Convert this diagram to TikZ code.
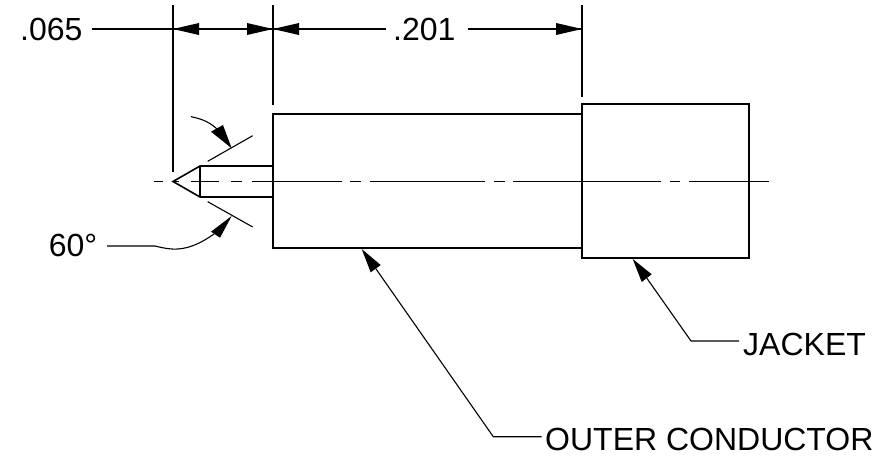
\documentclass[tikz,border=0pt]{standalone}
\usepackage{fontspec}
\setmainfont{Liberation Sans}
\tikzset{
 x=1pt,y=-1pt,
 thin line/.style={line width=1.1pt,black},
 part/.style={line width=1.6pt,black},
 center line/.style={line width=1pt,black},
 label/.style={font=\fontsize{32}{35}\selectfont,inner sep=0pt,anchor=base west}
}
\begin{document}
\begin{tikzpicture}
\useasboundingbox (0,0) rectangle (882,466);
% labels
\node[label] (d065) at (20,40) {.065};
\node[label] (d201) at (393,40) {.201};
\node[label] (d60) at (48.7,256.5) {60°};
\node[label] (jacket) at (743,355.7) {JACKET};
\node[label] (outer) at (545,450) {OUTER CONDUCTOR};
% coordinates
\coordinate (tipc) at (173,181.5);
\coordinate (pinTL) at (200,166);
\coordinate (pinBL) at (200,197);
\coordinate (bodyTL) at (273,114);
\coordinate (bodyBR) at (582,248);
\coordinate (jackTL) at (582,104);
\coordinate (jackBR) at (749,258);
\coordinate (pinTR) at (273,166);
\coordinate (pinBR) at (273,197);
% part outline
\draw[part] (bodyTL) rectangle (bodyBR);
\draw[part] (jackTL) rectangle (jackBR);
\draw[part] (pinTR) -- (pinTL) -- (tipc) -- (pinBL) -- (pinBR);
\draw[part] (pinTL) -- (pinBL);
% centre line
\foreach \a/\b in {154/163,173/179,191/219,231/242,252/342,350/361,370/485,494/505,513/661,670/680,689/769}
  \draw[center line] (\a,181.5) -- (\b,181.5);
% extension lines
\coordinate (e1a) at (173,5); \coordinate (e1b) at (173,172);
\coordinate (e2a) at (273,5); \coordinate (e2b) at (273,105);
\coordinate (e3a) at (582,5); \coordinate (e3b) at (582,97);
\draw[thin line] (e1a) -- (e1b);
\draw[thin line] (e2a) -- (e2b);
\draw[thin line] (e3a) -- (e3b);
% dimension lines
\coordinate (dy1) at (173,29);
\coordinate (dy2) at (273,29);
\coordinate (dy3) at (582,29);
\coordinate (l1) at (92,29);
\coordinate (l2) at (386,29);
\coordinate (l3) at (468,29);
\draw[thin line] (l1) -- (dy1) -- (dy2) -- (l2);
\draw[thin line] (l3) -- (dy3);
\fill (dy1) -- (199,23) -- (199,35) -- cycle;
\fill (dy2) -- (247,23) -- (247,35) -- cycle;
\fill (dy2) -- (299,23) -- (299,35) -- cycle;
\fill (dy3) -- (556,23) -- (556,35) -- cycle;
% angle witness lines
\draw[thin line] (207.7,161.3) -- (252.7,135.7);
\draw[thin line] (207.7,201.7) -- (252.7,227);
% angle leaders
\coordinate (a1) at (231.7,148.3);
\coordinate (a2) at (231.7,216);
\draw[thin line] (191,116.7) .. controls (203,119) and (211,123) .. (218,130);
\fill (a1) -- (211,131.7) -- (223,125) -- cycle;
\coordinate (l4) at (107,246);
\draw[thin line] (l4) -- (155,246) .. controls (163,248) and (170,249.5) .. (178,249) .. controls (192,248) and (204,241) .. (214,234);
\fill (a2) -- (211,231.7) -- (220,237.7) -- cycle;
% leaders
\coordinate (o1) at (541.7,436.7);
\coordinate (o2) at (493.3,436.7);
\coordinate (ot) at (361.7,249);
\draw[thin line] (o1) -- (o2) -- (375.7,268.5);
\fill (ot) -- (370.7,272.3) -- (380.7,265) -- cycle;
\coordinate (j1) at (739,341);
\coordinate (j2) at (691,341);
\coordinate (jt) at (632.7,259);
\draw[thin line] (j1) -- (j2) -- (646.7,278);
\fill (jt) -- (641.7,282) -- (651.7,274.3) -- cycle;
\end{tikzpicture}
\end{document}
